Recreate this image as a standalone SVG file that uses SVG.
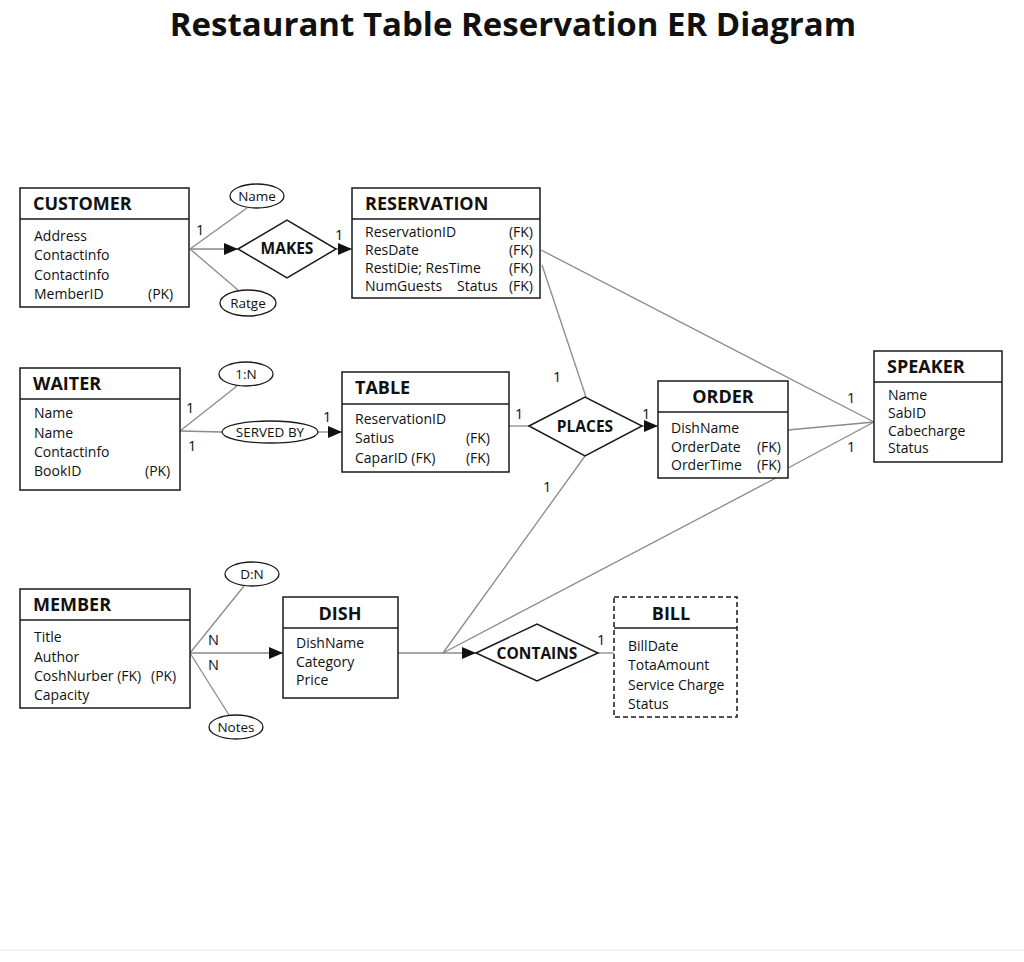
<svg xmlns="http://www.w3.org/2000/svg" width="1024" height="962" viewBox="0 0 1024 962">
<style>
text{font-family:"Open Sans","Noto Sans","Liberation Sans",sans-serif;fill:#111}
.title{font-size:33px;font-weight:700}
.ent{fill:#fff;stroke:#1a1a1a;stroke-width:1.5}
.dash{stroke-dasharray:5 3}
.hd{font-size:18px;font-weight:700}
.at{font-size:14px}
.rel{fill:#fff;stroke:#1a1a1a;stroke-width:1.5}
.rl{font-size:15.5px;font-weight:700}
.ell{fill:#fff;stroke:#1a1a1a;stroke-width:1.3}
.el{font-size:13.5px}
.cn{fill:none;stroke:#8a8a8a;stroke-width:1.3}
.card{font-size:14.5px}
.sep{stroke:#1a1a1a;stroke-width:1.5}
</style>
<defs>
<marker id="arr2" viewBox="0 0 14 12" refX="14" refY="6" markerWidth="14" markerHeight="12" markerUnits="userSpaceOnUse" orient="auto"><path d="M0,0 L14,6 L0,12 Z" fill="#111"/></marker>
</defs>
<rect width="1024" height="962" fill="#fff"/>
<text class="title" x="513" y="36" text-anchor="middle">Restaurant Table Reservation ER Diagram</text>
<line x1="0" y1="950" x2="1024" y2="950" stroke="#e6e6e6" stroke-width="1"/>

<g id="connectors">
<line class="cn" x1="190" y1="249" x2="247" y2="208"/>
<line class="cn" x1="190" y1="249" x2="238" y2="249" marker-end="url(#arr2)"/>
<line class="cn" x1="190" y1="249" x2="238" y2="290"/>
<line class="cn" x1="336" y1="249" x2="352" y2="249" marker-end="url(#arr2)"/>
<line class="cn" x1="541" y1="250" x2="874" y2="422"/>
<line class="cn" x1="542" y1="265" x2="586" y2="397"/>
<line class="cn" x1="180" y1="431" x2="237" y2="386"/>
<line class="cn" x1="180" y1="431" x2="222" y2="432"/>
<line class="cn" x1="318" y1="432" x2="342" y2="432" marker-end="url(#arr2)"/>
<line class="cn" x1="509" y1="426" x2="529" y2="426"/>
<line class="cn" x1="642" y1="426" x2="658" y2="426" marker-end="url(#arr2)"/>
<line class="cn" x1="788" y1="430" x2="874" y2="422"/>
<line class="cn" x1="788" y1="468" x2="874" y2="422"/>
<line class="cn" x1="585" y1="456" x2="443" y2="653"/>
<line class="cn" x1="776" y1="478" x2="443" y2="653"/>
<line class="cn" x1="190" y1="653" x2="244" y2="586"/>
<line class="cn" x1="190" y1="653" x2="283" y2="653" marker-end="url(#arr2)"/>
<line class="cn" x1="190" y1="653" x2="229" y2="715"/>
<line class="cn" x1="398" y1="653" x2="476" y2="653" marker-end="url(#arr2)"/>
<line class="cn" x1="598" y1="653" x2="614" y2="653"/>
<text class="card" x="196" y="235">1</text>
<text class="card" x="335" y="240">1</text>
<text class="card" x="186" y="413">1</text>
<text class="card" x="188" y="451">1</text>
<text class="card" x="323" y="422">1</text>
<text class="card" x="515" y="419">1</text>
<text class="card" x="642" y="419">1</text>
<text class="card" x="553" y="382">1</text>
<text class="card" x="847" y="403">1</text>
<text class="card" x="847" y="452">1</text>
<text class="card" x="543" y="492">1</text>
<text class="card" x="208" y="645">N</text>
<text class="card" x="208" y="670">N</text>
<text class="card" x="597" y="645">1</text>
</g>

<g id="customer">
<rect class="ent" x="20" y="188" width="169" height="119"/>
<line class="sep" x1="20" y1="219" x2="189" y2="219"/>
<text class="hd" x="33" y="210">CUSTOMER</text>
<text class="at" x="34" y="241">Address</text>
<text class="at" x="34" y="260">Contactinfo</text>
<text class="at" x="34" y="280">Contactinfo</text>
<text class="at" x="34" y="299">MemberID</text>
<text class="at" x="148" y="299">(PK)</text>
</g>
<g id="attr-name">
<ellipse class="ell" cx="257" cy="196" rx="27" ry="12"/>
<text class="el" x="257" y="201" text-anchor="middle">Name</text>
</g>
<g id="attr-ratge">
<ellipse class="ell" cx="248" cy="303" rx="28" ry="13"/>
<text class="el" x="248" y="308" text-anchor="middle">Ratge</text>
</g>
<g id="makes">
<polygon class="rel" points="238,249 287,220 336,249 287,278"/>
<text class="rl" x="287" y="254" text-anchor="middle">MAKES</text>
</g>

<g id="reservation">
<rect class="ent" x="352" y="188" width="188" height="110"/>
<line class="sep" x1="352" y1="219" x2="540" y2="219"/>
<text class="hd" x="365" y="210">RESERVATION</text>
<text class="at" x="365" y="237">ReservationID</text>
<text class="at" x="365" y="255">ResDate</text>
<text class="at" x="365" y="273">RestiDie; ResTime</text>
<text class="at" x="365" y="291">NumGuests</text>
<text class="at" x="457" y="291">Status</text>
<text class="at" x="533" y="237" text-anchor="end">(FK)</text>
<text class="at" x="533" y="255" text-anchor="end">(FK)</text>
<text class="at" x="533" y="273" text-anchor="end">(FK)</text>
<text class="at" x="533" y="291" text-anchor="end">(FK)</text>
</g>

<g id="waiter">
<rect class="ent" x="20" y="368" width="160" height="122"/>
<line class="sep" x1="20" y1="399" x2="180" y2="399"/>
<text class="hd" x="33" y="390">WAITER</text>
<text class="at" x="34" y="418">Name</text>
<text class="at" x="34" y="438">Name</text>
<text class="at" x="34" y="457">Contactinfo</text>
<text class="at" x="34" y="476">BookID</text>
<text class="at" x="145" y="476">(PK)</text>
</g>
<g id="attr-1n">
<ellipse class="ell" cx="246" cy="374" rx="27" ry="12"/>
<text class="el" x="246" y="379" text-anchor="middle">1:N</text>
</g>
<g id="served-by">
<ellipse class="ell" cx="270" cy="432" rx="48" ry="11"/>
<text class="el" x="270" y="437" text-anchor="middle">SERVED BY</text>
</g>

<g id="table">
<rect class="ent" x="342" y="372" width="167" height="100"/>
<line class="sep" x1="342" y1="404" x2="509" y2="404"/>
<text class="hd" x="355" y="394">TABLE</text>
<text class="at" x="355" y="424">ReservationID</text>
<text class="at" x="355" y="443">Satius</text>
<text class="at" x="355" y="463">CaparID (FK)</text>
<text class="at" x="490" y="443" text-anchor="end">(FK)</text>
<text class="at" x="490" y="463" text-anchor="end">(FK)</text>
</g>

<g id="places">
<polygon class="rel" points="529,426 585,397 642,426 585,456"/>
<text class="rl" x="585" y="432" text-anchor="middle">PLACES</text>
</g>

<g id="order">
<rect class="ent" x="658" y="381" width="130" height="97"/>
<line class="sep" x1="658" y1="412" x2="788" y2="412"/>
<text class="hd" x="723" y="403" text-anchor="middle">ORDER</text>
<text class="at" x="671" y="433">DishName</text>
<text class="at" x="671" y="452">OrderDate</text>
<text class="at" x="671" y="470">OrderTime</text>
<text class="at" x="781" y="452" text-anchor="end">(FK)</text>
<text class="at" x="781" y="470" text-anchor="end">(FK)</text>
</g>

<g id="speaker">
<rect class="ent" x="874" y="351" width="128" height="111"/>
<line class="sep" x1="874" y1="382" x2="1002" y2="382"/>
<text class="hd" x="887" y="373">SPEAKER</text>
<text class="at" x="888" y="400">Name</text>
<text class="at" x="888" y="418">SabID</text>
<text class="at" x="888" y="436">Cabecharge</text>
<text class="at" x="888" y="453">Status</text>
</g>

<g id="member">
<rect class="ent" x="20" y="589" width="170" height="119"/>
<line class="sep" x1="20" y1="620" x2="190" y2="620"/>
<text class="hd" x="33" y="611">MEMBER</text>
<text class="at" x="34" y="642">Title</text>
<text class="at" x="34" y="662">Author</text>
<text class="at" x="34" y="681">CoshNurber (FK)</text>
<text class="at" x="151" y="681">(PK)</text>
<text class="at" x="34" y="700">Capacity</text>
</g>
<g id="attr-dn">
<ellipse class="ell" cx="252" cy="574" rx="27" ry="12"/>
<text class="el" x="252" y="579" text-anchor="middle">D:N</text>
</g>
<g id="attr-notes">
<ellipse class="ell" cx="236" cy="727" rx="27" ry="12"/>
<text class="el" x="236" y="732" text-anchor="middle">Notes</text>
</g>

<g id="dish">
<rect class="ent" x="283" y="597" width="115" height="101"/>
<line class="sep" x1="283" y1="628" x2="398" y2="628"/>
<text class="hd" x="340" y="620" text-anchor="middle">DISH</text>
<text class="at" x="296" y="648">DishName</text>
<text class="at" x="296" y="667">Category</text>
<text class="at" x="296" y="685">Price</text>
</g>

<g id="contains">
<polygon class="rel" points="476,653 537,624 598,653 537,681"/>
<text class="rl" x="537" y="659" text-anchor="middle">CONTAINS</text>
</g>

<g id="bill">
<rect class="ent dash" x="614" y="597" width="123" height="120"/>
<line class="sep" x1="614" y1="628" x2="737" y2="628"/>
<text class="hd" x="671" y="620" text-anchor="middle">BILL</text>
<text class="at" x="628" y="651">BillDate</text>
<text class="at" x="628" y="670">TotaAmount</text>
<text class="at" x="628" y="690">Service Charge</text>
<text class="at" x="628" y="709">Status</text>
</g>
</svg>
